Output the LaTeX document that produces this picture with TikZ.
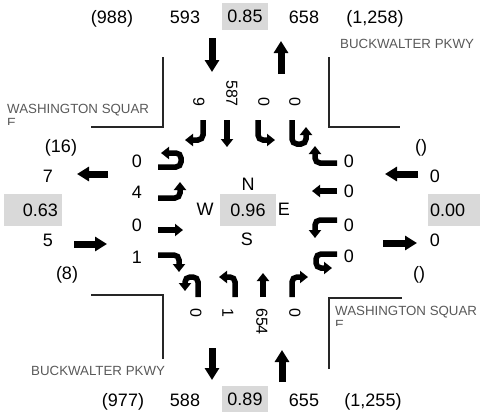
\documentclass[tikz,border=0pt]{standalone}
\usepackage{fontspec}
\setmainfont{Liberation Sans}
\usetikzlibrary{arrows.meta}
\definecolor{cellgrey}{HTML}{D9D9D9}
\definecolor{roadgrey}{HTML}{595959}
\definecolor{curbgrey}{HTML}{262626}

\begin{document}
\begin{tikzpicture}[
    x=1pt, y=-1pt,
    vol/.style={font=\fontsize{18}{20}\selectfont, inner sep=0pt, anchor=base},
    lanevol/.style={font=\fontsize{16}{18}\selectfont, inner sep=0pt, rotate=-90},
    ratio/.style={font=\fontsize{18}{20}\selectfont, fill=cellgrey, inner sep=0pt,
                  anchor=center},
    road/.style={font=\fontsize{13.3}{14.5}\selectfont, text=roadgrey, inner sep=0pt,
                 anchor=base west},
    curb/.style={curbgrey, line width=2.5pt},
    bigarrow/.style={line width=7pt, -{Triangle[width=14pt,length=12pt]}},
    turn/.style={line width=5.5pt, rounded corners=5pt, -{Triangle[width=12pt,length=8pt]}}
  ]
    \useasboundingbox (0,0) rectangle (480,416);

    % curb corners
    \draw[curb] (91,127) -- (163,127) -- (163,57);
    \draw[curb] (329,57) -- (329,127) -- (400,127);
    \draw[curb] (91,295) -- (163,295) -- (163,359);
    \draw[curb] (329,369) -- (329,298) -- (402,298);

    % street names
    \node[road] (wsqNW) at (7,113) {WASHINGTON SQUAR};
    \begin{scope}
      \clip (0,114) rectangle (60,124);
      \node[road] (wsqNWe) at (7,127.5) {E};
    \end{scope}
    \node[road] (bwNE) at (340,48) {BUCKWALTER PKWY};
    \node[road] (bwSW) at (31,375) {BUCKWALTER PKWY};
    \node[road] (wsqSE) at (335,315) {WASHINGTON SQUAR};
    \begin{scope}
      \clip (330,316) rectangle (400,325);
      \node[road] (wsqSEe) at (335,329.5) {E};
    \end{scope}

    % north leg
    \node[vol] (nInVol) at (112,23) {(988)};
    \node[vol] (nSbVol) at (185,23) {593};
    \node[ratio, minimum width=46pt, minimum height=27pt] (nRatio) at (245,16.5) {0.85};
    \node[vol] (nNbVol) at (304,23) {658};
    \node[vol] (nOutVol) at (375,23) {(1,258)};
    \draw[bigarrow] (212,38) -- (212,72);
    \draw[bigarrow] (281,74) -- (281,41);

    % south leg
    \node[vol] (sInVol) at (123,406) {(977)};
    \node[vol] (sSbVol) at (185,406) {588};
    \node[ratio, minimum width=46pt, minimum height=26pt] (sRatio) at (245,399) {0.89};
    \node[vol] (sNbVol) at (304,406) {655};
    \node[vol] (sOutVol) at (373,406) {(1,255)};
    \draw[bigarrow] (212,348) -- (212,380);
    \draw[bigarrow] (282,382) -- (282,350);

    % west leg
    \node[vol] (wInVol) at (61,152) {(16)};
    \node[vol] (wWbVol) at (48,182) {7};
    \node[ratio, minimum width=58pt, minimum height=32pt, text width=50pt,
          align=right] (wRatio) at (33,210) {0.63};
    \node[vol] (wEbVol) at (48,246) {5};
    \node[vol] (wOutVol) at (67,279) {(8)};
    \draw[bigarrow] (108,174) -- (77,174);
    \draw[bigarrow] (74,244) -- (107,244);

    % east leg
    \node[vol] (eInVol) at (421,152) {()};
    \node[vol] (eWbVol) at (435,182) {0};
    \node[ratio, minimum width=54pt, minimum height=32pt, text width=50pt,
          align=left] (eRatio) at (455,210) {0.00};
    \node[vol] (eEbVol) at (435,246) {0};
    \node[vol] (eOutVol) at (419,279) {()};
    \draw[bigarrow] (418,174) -- (385,174);
    \draw[bigarrow] (383,243) -- (417,243);

    % centre
    \node[vol] (north) at (248,190) {N};
    \node[vol] (west) at (205,215) {W};
    \node[ratio, minimum width=56pt, minimum height=32pt] (icu) at (248,210) {0.96};
    \node[vol] (east) at (284,215) {E};
    \node[vol] (south) at (247,245) {S};

    % southbound movements
    \node[lanevol, anchor=east] (sbRt) at (199,107) {9};
    \node[lanevol, anchor=east] (sbTh) at (232,107) {587};
    \node[lanevol, anchor=east] (sbLt) at (264,107) {0};
    \node[lanevol, anchor=east] (sbU) at (295,107) {0};
    \draw[turn] (203,120) -- (203,140) -- (185,140);
    \draw[turn] (227,120) -- (227,147);
    \draw[turn] (258,120) -- (258,140) -- (275,140);
    \draw[turn] (292,120) -- (292,144) -- (306,144) -- (306,127);

    % eastbound movements
    \node[vol] (ebU) at (137,167) {0};
    \node[vol] (ebLt) at (137,198) {4};
    \node[vol] (ebTh) at (137,231) {0};
    \node[vol] (ebRt) at (137,263) {1};
    \draw[turn] (158,167) -- (181,167) -- (181,153) -- (161,153);
    \draw[turn] (158,198) -- (180,198) -- (180,182);
    \draw[turn] (158,230) -- (183,230);
    \draw[turn] (158,255) -- (179,255) -- (179,272);

    % westbound movements
    \node[vol] (wbRt) at (349,167) {0};
    \node[vol] (wbTh) at (349,197) {0};
    \node[vol] (wbLt) at (349,231) {0};
    \node[vol] (wbU) at (349,262) {0};
    \draw[turn] (337,163) -- (315,163) -- (315,146);
    \draw[turn] (337,191) -- (312,191);
    \draw[turn] (337,220) -- (315,220) -- (315,238);
    \draw[turn] (337,254) -- (316,254) -- (316,268) -- (332,268);

    % northbound movements
    \node[lanevol, anchor=west] (nbU) at (196,308) {0};
    \node[lanevol, anchor=west] (nbLt) at (228,308) {1};
    \node[lanevol, anchor=west] (nbTh) at (262,308) {654};
    \node[lanevol, anchor=west] (nbRt) at (295,308) {0};
    \draw[turn] (198,297) -- (198,277) -- (185,277) -- (185,291);
    \draw[turn] (235,297) -- (235,277) -- (219,277);
    \draw[turn] (263,297) -- (263,273);
    \draw[turn] (292,297) -- (292,277) -- (308,277);
  \end{tikzpicture}
\end{document}
